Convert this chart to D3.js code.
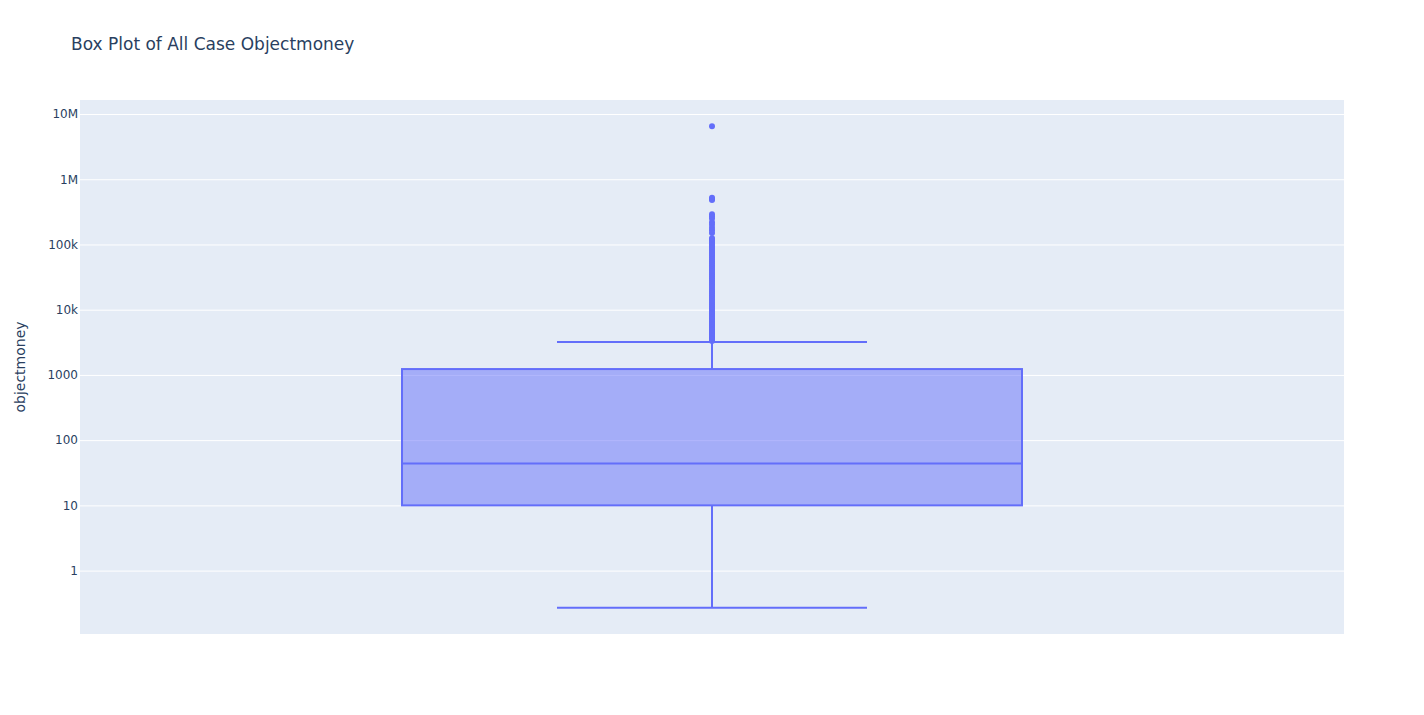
<!DOCTYPE html>
<html>
<head>
<meta charset="utf-8">
<script src="https://cdn.jsdelivr.net/npm/d3@7"></script>
<style>
  body { margin: 0; background: #fff; }
  svg { display: block; font-family: "DejaVu Sans", Verdana, sans-serif; }
</style>
</head>
<body>
<svg id="chart" width="1424" height="715"></svg>
<script>
// ---- data ----
const chartTitle = "Box Plot of All Case Objectmoney";
const yAxisTitle = "objectmoney";
const tickValues = [1, 10, 100, 1000, 10000, 100000, 1000000, 10000000];
const tickLabels = ["1", "10", "100", "1000", "10k", "100k", "1M", "10M"];
const lowerFence = 0.27;
const q1 = 10;
const median = 44;
const q3 = 1230;
const upperFence = 3200;
const outliers = [
  3300, 3450, 3600, 3750, 3900, 4100, 4300, 4500, 4750, 5000, 5300, 5600, 5900, 6200,
  6600, 7000, 7400, 7800, 8300, 8800, 9300, 9900, 10500, 11200, 12000, 12800, 13700,
  14600, 15600, 16700, 17800, 19000, 20300, 21700, 23200, 24800, 26500, 28300, 30300,
  32400, 34600, 37000, 39500, 42200, 45000, 48000, 51500, 55000, 59000, 63000, 67500,
  72000, 77000, 82000, 88000, 94000, 100000, 107000, 114000, 120000, 125000,
  150000, 165000, 180000, 200000, 220000, 250000, 270000, 290000,
  480000, 500000, 520000, 6470000
];
const yDomain = [Math.pow(10, -0.972), Math.pow(10, 7.215)];

// ---- layout ----
const svg = d3.select("#chart");
const plot = { left: 80, right: 1344, top: 100, bottom: 634 };
const color = "#636efa";
const fontFam = '"DejaVu Sans", Verdana, sans-serif';

const y = d3.scaleLog().domain(yDomain).range([plot.bottom, plot.top]);
const x = d3.scaleBand().domain(["all"]).range([plot.left, plot.right]).paddingInner(0).paddingOuter(0);
const cx = x("all") + x.bandwidth() / 2;
const boxW = x.bandwidth() * 0.4905;
const whiskW = boxW / 2;

svg.append("rect")
  .attr("x", plot.left).attr("y", plot.top)
  .attr("width", plot.right - plot.left).attr("height", plot.bottom - plot.top)
  .attr("fill", "#E5ECF6");

const yAxis = d3.axisLeft(y).tickValues(tickValues)
  .tickFormat((d, i) => tickLabels[i])
  .tickSize(-(plot.right - plot.left)).tickPadding(3);

const gy = svg.append("g").attr("transform", `translate(${plot.left},0)`).call(yAxis);
gy.attr("font-family", fontFam);
gy.select(".domain").remove();
gy.selectAll(".tick line").attr("stroke", "#ffffff").attr("stroke-width", 1);
gy.selectAll(".tick text").attr("fill", "#2a3f5f").style("font-size", "12px")
  .style("font-family", fontFam)
  .attr("x", -2);

// ---- box ----
const g = svg.append("g");
g.append("line").attr("x1", cx).attr("x2", cx).attr("y1", y(q3)).attr("y2", y(upperFence))
  .attr("stroke", color).attr("stroke-width", 2);
g.append("line").attr("x1", cx).attr("x2", cx).attr("y1", y(q1)).attr("y2", y(lowerFence))
  .attr("stroke", color).attr("stroke-width", 2);
[upperFence, lowerFence].forEach(v => {
  g.append("line").attr("x1", cx - whiskW / 2).attr("x2", cx + whiskW / 2)
    .attr("y1", y(v)).attr("y2", y(v))
    .attr("stroke", color).attr("stroke-width", 2);
});
g.append("rect")
  .attr("x", cx - boxW / 2).attr("width", boxW)
  .attr("y", y(q3)).attr("height", y(q1) - y(q3))
  .attr("fill", color).attr("fill-opacity", 0.5)
  .attr("stroke", color).attr("stroke-width", 2);
g.append("line").attr("x1", cx - boxW / 2).attr("x2", cx + boxW / 2)
  .attr("y1", y(median)).attr("y2", y(median))
  .attr("stroke", color).attr("stroke-width", 2);

g.selectAll("circle.out").data(outliers).enter().append("circle")
  .attr("class", "out")
  .attr("cx", cx).attr("cy", d => y(d)).attr("r", 3)
  .attr("fill", color);

// ---- titles ----
svg.append("text").attr("x", 71).attr("y", 50)
  .attr("fill", "#2a3f5f").style("font-size", "17px")
  .text(chartTitle);

svg.append("text")
  .attr("transform", `translate(25,${(plot.top + plot.bottom) / 2}) rotate(-90)`)
  .attr("text-anchor", "middle")
  .attr("fill", "#2a3f5f").style("font-size", "14px")
  .text(yAxisTitle);
</script>
</body>
</html>
